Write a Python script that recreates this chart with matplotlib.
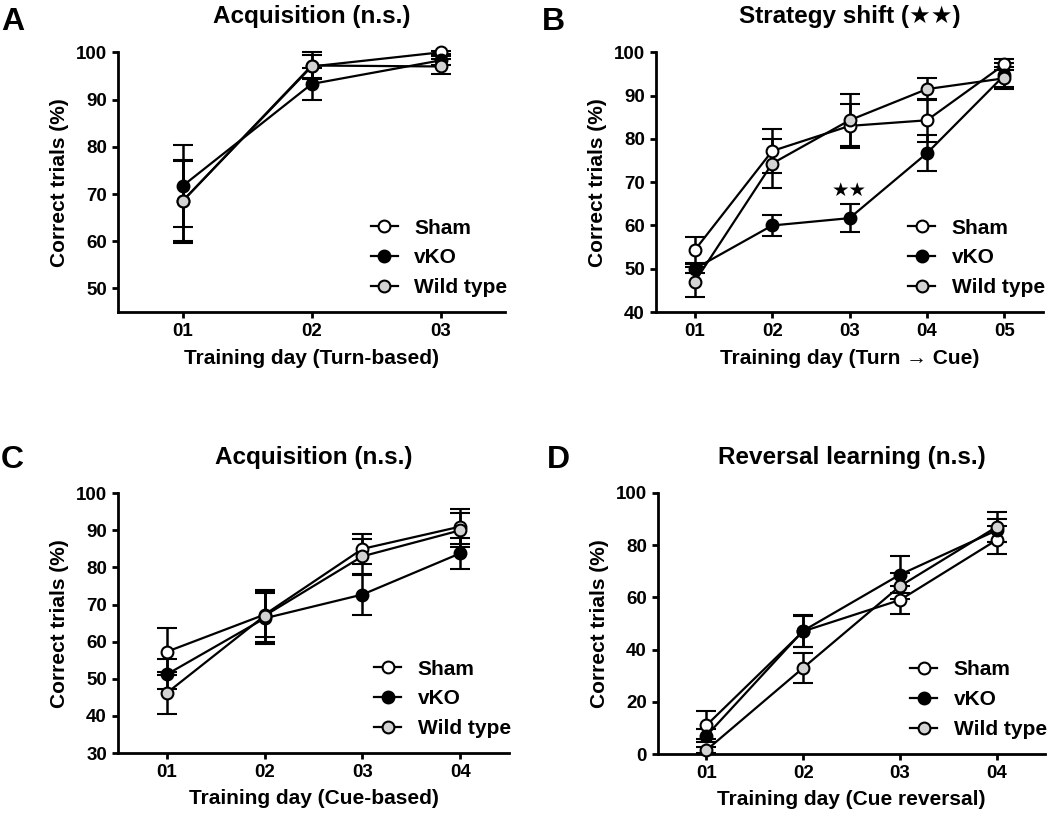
import numpy as np
import matplotlib
matplotlib.use("Agg")
import matplotlib.pyplot as plt

plt.rcParams['font.family'] = ['Liberation Sans', 'DejaVu Sans']
plt.rcParams['font.weight'] = 'bold'

groups = ["Sham", "vKO", "Wild type"]
faces = ["white", "black", "#d3d3d3"]

# Panel A - acquisition (turn-based)
a_days = ["01", "02", "03"]
a_mean = {"Sham": [68.5, 97.0, 100.0], "vKO": [71.7, 93.3, 98.3], "Wild type": [68.5, 97.2, 97.0]}
a_err = {"Sham": [8.5, 2.5, 0.3], "vKO": [8.7, 3.3, 1.0], "Wild type": [8.8, 2.8, 1.5]}

# Panel B - strategy shift
b_days = ["01", "02", "03", "04", "05"]
b_mean = {"Sham": [54.3, 77.2, 83.0, 84.3, 97.2], "vKO": [50.0, 60.0, 61.7, 76.7, 94.7],
          "Wild type": [47.0, 74.3, 84.3, 91.5, 94.0]}
b_err = {"Sham": [3.0, 5.0, 5.0, 5.0, 1.2], "vKO": [1.0, 2.5, 3.2, 4.2, 2.8],
         "Wild type": [3.5, 5.7, 6.0, 2.5, 2.5]}

# Panel C - acquisition (cue-based)
c_days = ["01", "02", "03", "04"]
c_mean = {"Sham": [57.3, 67.3, 85.0, 91.0], "vKO": [51.2, 66.3, 72.7, 83.8], "Wild type": [46.2, 67.0, 83.0, 90.0]}
c_err = {"Sham": [6.3, 6.0, 4.0, 4.7], "vKO": [4.0, 6.8, 5.4, 4.1], "Wild type": [5.6, 7.0, 4.8, 4.6]}

# Panel D - reversal learning
d_days = ["01", "02", "03", "04"]
d_mean = {"Sham": [11.0, 47.0, 59.0, 82.0], "vKO": [7.0, 47.2, 68.7, 85.7], "Wild type": [1.5, 33.0, 64.3, 87.0]}
d_err = {"Sham": [5.4, 6.0, 5.5, 5.5], "vKO": [2.5, 6.2, 7.0, 4.5], "Wild type": [1.0, 5.7, 5.0, 5.8]}

fig = plt.figure(figsize=(10.5, 8.17), dpi=100)

panels = [
    ("A", "Acquisition (n.s.)", "Training day (Turn-based)", a_days, a_mean, a_err, (45, 100), np.arange(50, 101, 10),
     [0.1124, 0.618, 0.369, 0.318]),
    ("B", "Strategy shift (\u2605\u2605)", "Training day (Turn \u2192 Cue)", b_days, b_mean, b_err, (40, 100),
     np.arange(40, 101, 10), [0.6248, 0.618, 0.3686, 0.318]),
    ("C", "Acquisition (n.s.)", "Training day (Cue-based)", c_days, c_mean, c_err, (30, 100), np.arange(30, 101, 10),
     [0.1124, 0.0783, 0.3724, 0.318]),
    ("D", "Reversal learning (n.s.)", "Training day (Cue reversal)", d_days, d_mean, d_err, (0, 100),
     np.arange(0, 101, 20), [0.6267, 0.0771, 0.3686, 0.3195]),
]

letter_pos = {"A": (0.001, 0.992), "B": (0.516, 0.992), "C": (0.001, 0.455), "D": (0.521, 0.455)}

for letter, title, xlabel, days, means, errs, ylim, yticks, rect in panels:
    ax = fig.add_axes(rect)
    x = np.arange(1, len(days) + 1)
    handles = []
    for g, fc in zip(groups, faces):
        cont = ax.errorbar(x, means[g], yerr=errs[g], fmt='-o', color='black', lw=1.6,
                           ms=8.5, mfc=fc, mec='black', mew=1.5, ecolor='black',
                           elinewidth=1.8, capsize=7, capthick=1.8, clip_on=False, zorder=3)
        for art in cont.lines[1]:
            art.set_clip_on(False)
        for art in cont.lines[2]:
            art.set_clip_on(False)
        handles.append(cont[0])
    ax.set_xlim(0.5, len(days) + 0.5)
    ax.set_ylim(*ylim)
    ax.set_xticks(x)
    ax.set_xticklabels(days)
    ax.set_yticks(yticks)
    for s in ['top', 'right']:
        ax.spines[s].set_visible(False)
    for s in ['left', 'bottom']:
        ax.spines[s].set_linewidth(2)
    ax.tick_params(width=2, length=4, labelsize=13.5, pad=4)
    ax.set_title(title, fontsize=17.5, fontweight='bold', pad=21)
    ax.set_xlabel(xlabel, fontsize=15, fontweight='bold', labelpad=6)
    ax.set_ylabel("Correct trials (%)", fontsize=15, fontweight='bold', labelpad=5)
    ax.legend(handles, groups, loc='lower right', bbox_to_anchor=(1.005, 0.057), frameon=False,
              fontsize=15, handlelength=1.3, handletextpad=0.8, labelspacing=0.52, borderpad=0,
              borderaxespad=0)
    fig.text(letter_pos[letter][0], letter_pos[letter][1], letter, fontsize=23, fontweight='bold',
             ha='left', va='top')
    if letter == "B":
        ax.text(3, 66.0, "\u2605\u2605", ha='center', va='bottom', fontsize=14)

fig.savefig("out.png", dpi=100)
